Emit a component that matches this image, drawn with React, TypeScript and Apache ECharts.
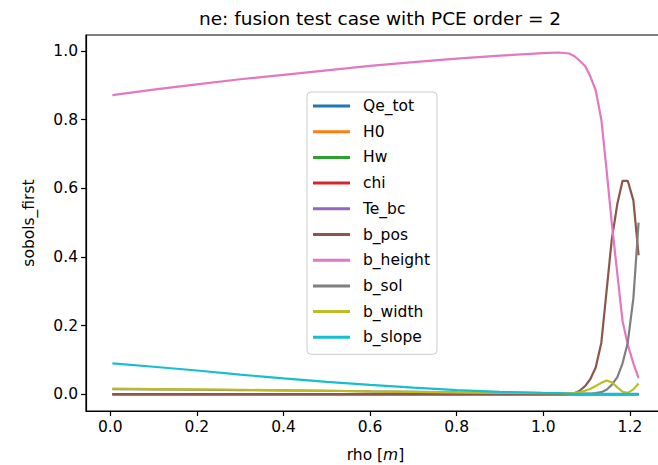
import React, { useEffect, useRef } from "react";
import * as echarts from "echarts";

const rho = [0.005, 0.1, 0.2, 0.3, 0.4, 0.5, 0.6, 0.7, 0.8, 0.9, 1.0, 1.035, 1.06, 1.072, 1.084, 1.097, 1.109, 1.121, 1.134, 1.146, 1.158, 1.171, 1.183, 1.195, 1.208, 1.22];

const Qe_tot = [0, 0, 0, 0, 0, 0, 0, 0, 0, 0, 0, 0, 0, 0, 0, 0, 0, 0, 0, 0, 0, 0, 0, 0, 0, 0];
const H0 = [0, 0, 0, 0, 0, 0, 0, 0, 0, 0, 0, 0, 0, 0, 0, 0, 0, 0, 0, 0, 0, 0, 0, 0, 0, 0];
const Hw = [0, 0, 0, 0, 0, 0, 0, 0, 0, 0, 0, 0, 0, 0, 0, 0, 0, 0, 0, 0, 0, 0, 0, 0, 0, 0];
const chi = [0, 0, 0, 0, 0, 0, 0, 0, 0, 0, 0, 0, 0, 0, 0, 0, 0, 0, 0, 0, 0, 0, 0, 0, 0, 0];
const Te_bc = [0, 0, 0, 0, 0, 0, 0, 0, 0, 0, 0, 0, 0, 0, 0, 0, 0, 0, 0, 0, 0, 0, 0, 0, 0, 0];
const b_pos = [0, 0, 0, 0, 0, 0, 0, 0, 0, 0, 0, 0, 0.001, 0.003, 0.01, 0.024, 0.045, 0.078, 0.15, 0.3, 0.45, 0.555, 0.622, 0.622, 0.565, 0.405];
const b_height = [0.872, 0.888, 0.903, 0.918, 0.931, 0.944, 0.957, 0.968, 0.978, 0.987, 0.994, 0.996, 0.993, 0.985, 0.972, 0.956, 0.925, 0.886, 0.8, 0.655, 0.5, 0.35, 0.213, 0.145, 0.09, 0.047];
const b_sol = [0.015, 0.014, 0.013, 0.012, 0.011, 0.01, 0.008, 0.007, 0.005, 0.004, 0.003, 0.003, 0.002, 0.002, 0.002, 0.002, 0.002, 0.003, 0.006, 0.013, 0.027, 0.05, 0.09, 0.15, 0.28, 0.5];
const b_width = [0.016, 0.015, 0.014, 0.013, 0.011, 0.01, 0.008, 0.007, 0.005, 0.004, 0.003, 0.003, 0.003, 0.004, 0.006, 0.01, 0.016, 0.024, 0.033, 0.04, 0.035, 0.02, 0.007, 0.004, 0.014, 0.031];
const b_slope = [0.09, 0.08, 0.069, 0.057, 0.046, 0.036, 0.027, 0.019, 0.012, 0.007, 0.004, 0.003, 0.002, 0.001, 0.001, 0.001, 0.001, 0.001, 0.001, 0.001, 0.001, 0.001, 0.001, 0.001, 0.001, 0.001];

const seriesNames = ["Qe_tot", "H0", "Hw", "chi", "Te_bc", "b_pos", "b_height", "b_sol", "b_width", "b_slope"];
const seriesValues = [Qe_tot, H0, Hw, chi, Te_bc, b_pos, b_height, b_sol, b_width, b_slope];
const colors = ["#1f77b4", "#ff7f0e", "#2ca02c", "#d62728", "#9467bd", "#8c564b", "#e377c2", "#7f7f7f", "#bcbd22", "#17becf"];

const xTicks = [0, 0.2, 0.4, 0.6, 0.8, 1.0, 1.2];
const yTicks = [0, 0.2, 0.4, 0.6, 0.8, 1.0];

const FONT = "DejaVu Sans";

export default function App() {
  const ref = useRef<HTMLDivElement>(null);
  useEffect(() => {
    if (!ref.current) return;
    const chart = echarts.init(ref.current, null, { renderer: "svg" });
    chart.setOption({
      animation: false,
      color: colors,
      textStyle: { fontFamily: FONT },
      title: {
        text: "ne: fusion test case with PCE order = 2",
        left: 375,
        textAlign: "center",
        top: 4,
        textStyle: { fontFamily: FONT, fontSize: 18.5, fontWeight: "normal", color: "#000" },
      },
      legend: {
        orient: "vertical",
        left: 307,
        top: 92,
        icon: "rect",
        itemWidth: 37,
        itemHeight: 3,
        itemGap: 7.7,
        padding: [5, 7, 8, 6],
        backgroundColor: "rgba(255,255,255,0.8)",
        borderColor: "#cccccc",
        borderWidth: 1,
        borderRadius: 4,
        textStyle: { fontFamily: FONT, fontSize: 15.5, color: "#000", lineHeight: 18, padding: [0, 0, 0, 8] },
        data: seriesNames,
      },
      grid: {
        left: 86,
        right: -7,
        top: 35,
        bottom: 54,
        show: true,
        borderColor: "#000",
        borderWidth: 1.2,
        backgroundColor: "transparent",
        outerBoundsMode: "none",
        containLabel: false,
      },
      xAxis: {
        type: "value",
        min: -0.056,
        max: 1.281,
        name: "rho [{i|m}]",
        nameLocation: "middle",
        nameGap: 36,
        nameTextStyle: {
          fontFamily: FONT,
          fontSize: 15.5,
          color: "#000",
          rich: { i: { fontFamily: FONT, fontStyle: "italic", fontSize: 15.5, color: "#000" } },
        },
        axisLine: { show: true, onZero: false, lineStyle: { color: "#000", width: 1.2 } },
        axisTick: { show: true, customValues: xTicks, length: 5, lineStyle: { color: "#000", width: 1.2 } },
        axisLabel: {
          customValues: xTicks,
          formatter: (v: number) => v.toFixed(1),
          fontFamily: FONT,
          fontSize: 15.5,
          color: "#000",
          margin: 8,
        },
        splitLine: { show: false },
      },
      yAxis: {
        type: "value",
        min: -0.049,
        max: 1.047,
        name: "sobols_first",
        nameLocation: "middle",
        nameGap: 49,
        nameTextStyle: { fontFamily: FONT, fontSize: 15.5, color: "#000" },
        axisLine: { show: true, onZero: false, lineStyle: { color: "#000", width: 1.2 } },
        axisTick: { show: true, customValues: yTicks, length: 5, lineStyle: { color: "#000", width: 1.2 } },
        axisLabel: {
          customValues: yTicks,
          formatter: (v: number) => v.toFixed(1),
          fontFamily: FONT,
          fontSize: 15.5,
          color: "#000",
          margin: 8,
        },
        splitLine: { show: false },
      },
      series: seriesNames.map((name, i) => ({
        name,
        type: "line",
        showSymbol: false,
        symbol: "none",
        data: rho.map((x, j) => [x, seriesValues[i][j]]),
        lineStyle: { width: 2.2, color: colors[i] },
        itemStyle: { color: colors[i] },
        smooth: false,
      })),
    });
    return () => chart.dispose();
  }, []);
  return <div ref={ref} style={{ width: 658, height: 465, position: "absolute", left: 0, top: 0 }} />;
}
